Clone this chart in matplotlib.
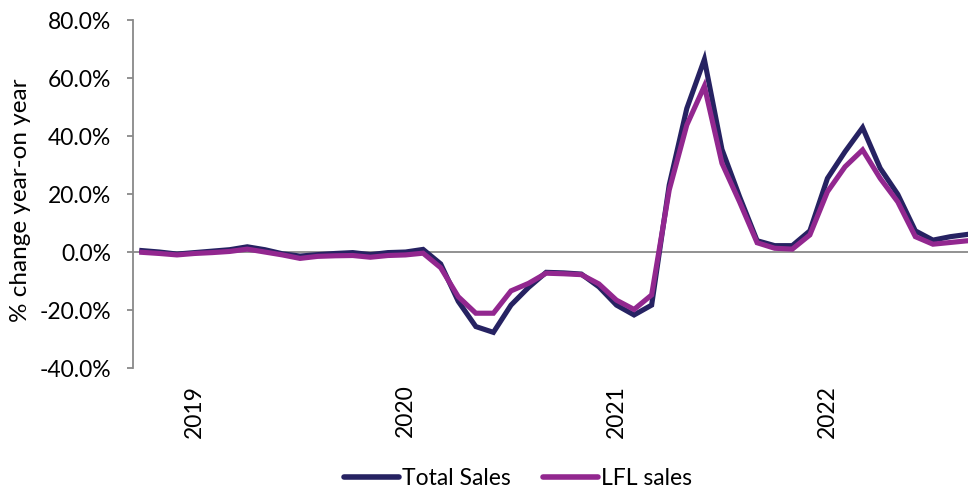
import matplotlib
matplotlib.use("Agg")
import matplotlib.pyplot as plt
from matplotlib.ticker import FuncFormatter, FixedLocator

plt.rcParams['font.family'] = ['Lato', 'DejaVu Sans']

# Monthly observations, Oct 2018 .. Sep 2022 (% change year-on-year)
total_sales = [0.5, 0.0, -0.7, -0.2, 0.3, 0.8, 1.8, 0.8, -0.6, -1.4, -0.9, -0.5,
               -0.2, -0.9, -0.2, 0.0, 0.9, -4.1, -17.0, -25.7, -27.7, -18.3, -12.2, -7.0,
               -7.2, -7.6, -12.0, -18.3, -21.7, -18.3, 23.1, 49.5, 66.4, 35.4, 19.1, 3.9,
               2.2, 2.2, 7.3, 25.4, 34.6, 42.9, 28.9, 19.9, 7.3, 4.1, 5.3, 6.1]
lfl_sales = [-0.1, -0.5, -1.0, -0.5, -0.2, 0.2, 1.0, 0.0, -1.0, -2.2, -1.5, -1.3,
             -1.2, -1.8, -1.2, -1.0, -0.4, -5.4, -15.4, -21.1, -21.1, -13.4, -10.8, -7.3,
             -7.5, -7.8, -11.0, -16.6, -19.8, -14.8, 21.4, 43.8, 57.2, 30.6, 17.3, 3.2,
             1.3, 1.0, 5.9, 20.8, 29.4, 35.2, 25.4, 17.3, 5.3, 2.7, 3.3, 3.9]
year_labels = ["2019", "2020", "2021", "2022"]
year_label_index = [3, 15, 27, 39]
y_ticks = [-40, -20, 0, 20, 40, 60, 80]

navy = "#262262"
purple = "#92278F"
grey = "#898989"

fig = plt.figure(figsize=(9.68, 4.94), dpi=100)
ax = fig.add_axes([0.1374, 0.255, 0.8636, 0.7045])

x = list(range(len(total_sales)))
ax.plot(x, total_sales, color=navy, lw=3.7, solid_joinstyle='miter', label="Total Sales", zorder=3)
ax.plot(x, lfl_sales, color=purple, lw=3.7, solid_joinstyle='miter', label="LFL sales", zorder=4)

ax.axhline(0, color=grey, lw=1.3, zorder=2)
ax.set_xlim(-0.5, 47.05)
ax.set_ylim(-40, 80)
ax.yaxis.set_major_locator(FixedLocator(y_ticks))
ax.yaxis.set_major_formatter(FuncFormatter(lambda v, p: f"{v:.1f}%"))

for s in ['top', 'right', 'bottom']:
    ax.spines[s].set_visible(False)
ax.spines['left'].set_color(grey)
ax.spines['left'].set_linewidth(1.3)
ax.tick_params(axis='y', colors=grey, length=4.5, width=1.3, labelsize=16.5,
               labelcolor='black', pad=11)

ax.set_xticks(year_label_index)
ax.set_xticklabels(year_labels, rotation=90, fontsize=16.5)
ax.tick_params(axis='x', length=0, pad=12)

ax.set_ylabel("% change year-on year", fontsize=17.5)
ax.yaxis.set_label_coords(-0.1225, 0.483)

leg = fig.legend(loc='center', bbox_to_anchor=(0.535, 0.032), ncol=2, frameon=False,
                 fontsize=16.5, handlelength=2.4, handletextpad=0.15, columnspacing=1.4)
for h in leg.get_lines():
    h.set_linewidth(4.0)
    h.set_solid_capstyle('round')

fig.savefig("out.png", dpi=100)
